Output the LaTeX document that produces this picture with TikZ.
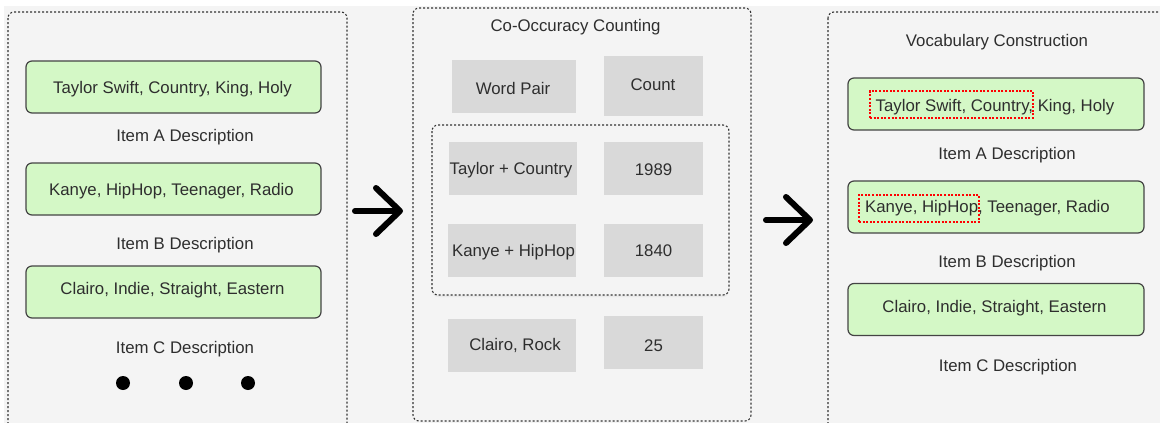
\documentclass[tikz,border=0pt]{standalone}
\usepackage{fontspec}
\setmainfont{Liberation Sans}
\usetikzlibrary{arrows.meta,shadows}
\definecolor{bg}{HTML}{F4F4F4}
\definecolor{greenfill}{HTML}{D4F8C6}
\definecolor{greenline}{HTML}{444444}
\definecolor{cellgray}{HTML}{D9D9D9}
\definecolor{txt}{HTML}{2E2E2E}
\definecolor{dotline}{HTML}{333333}
\begin{document}
\begin{tikzpicture}[x=1pt,y=-1pt,
  every node/.style={font=\fontsize{16.8}{18}\selectfont, text=txt, inner sep=0pt},
  panel/.style={draw=dotline, line width=1.1pt, dash pattern=on 2pt off 2pt, rounded corners=6pt},
  greenbox/.style={draw=greenline, line width=1.2pt, fill=greenfill, rounded corners=6pt, minimum width=295pt, minimum height=52pt},
  cell/.style={fill=cellgray, minimum width=#1, minimum height=53pt},
  cell/.default=128pt,
  numcell/.style={fill=cellgray, minimum width=99pt, minimum height=53pt},
  redbox/.style={draw=red, line width=1.2pt, dash pattern=on 2pt off 1.6pt, minimum height=27pt},
  lbl/.style={text height=12pt, text depth=3.5pt, yshift=-2.6pt},
  bigarrow/.style={line width=6pt, line cap=round, -{Straight Barb[length=24pt,width=46pt,line cap=round,line join=round]}},
  dotmark/.style={circle, fill=black, minimum size=14pt}
]
\useasboundingbox (0,0) rectangle (1160,423);
\clip (0,0) rectangle (1160,423);
\fill[bg] (4,6) rectangle (1160,423);

% panels
\draw[panel] (8,12) rectangle (347,440);
\draw[panel] (413,8) rectangle (751,421);
\draw[panel] (828,12) rectangle (1180,440);

% left panel
\node[greenbox] (la) at (173.5,87) {};
\node[lbl] (lat) at (172.5,87) {Taylor Swift, Country, King, Holy};
\node[lbl] (lad) at (185,135) {Item A Description};
\node[greenbox] (lb) at (173.5,189) {};
\node[lbl] (lbt) at (171.5,189) {Kanye, HipHop, Teenager, Radio};
\node[lbl] (lbd) at (185,243) {Item B Description};
\node[greenbox] (lc) at (173.5,292) {};
\node[lbl] (lct) at (172.5,288) {Clairo, Indie, Straight, Eastern};
\node[lbl] (lcd) at (185,347) {Item C Description};
\node[dotmark] (d1) at (123,383) {};
\node[dotmark] (d2) at (186,383) {};
\node[dotmark] (d3) at (248,383) {};

% middle panel
\node[lbl] (mt) at (575.5,25) {Co-Occuracy Counting};
\draw[panel, drop shadow={opacity=0.08, shadow xshift=0pt, shadow yshift=-2pt}, fill=bg] (432,125) rectangle (729,295);
\node[fill=cellgray, minimum width=124pt, minimum height=53pt] (wp) at (514,86.5) {};
\node[lbl] (wpt) at (513,88) {Word Pair};
\node[numcell, minimum height=60pt] (ct) at (653.5,86) {};
\node[lbl] (ctt) at (653,84) {Count};
\node[cell] (tc) at (513,168.5) {};
\node[lbl] (tct) at (511,168) {Taylor + Country};
\node[numcell] (n1) at (653.5,168.5) {};
\node[lbl] (n1t) at (653.5,169) {1989};
\node[cell] (kh) at (512,250.5) {};
\node[lbl] (kht) at (513.5,250) {Kanye + HipHop};
\node[numcell] (n2) at (653.5,250.5) {};
\node[lbl] (n2t) at (653.5,250) {1840};
\node[cell] (cr) at (512,345.5) {};
\node[lbl] (crt) at (515,344) {Clairo, Rock};
\node[numcell] (n3) at (653.5,342.5) {};
\node[lbl] (n3t) at (653.5,345) {25};

% right panel
\node[lbl] (rt) at (997,40) {Vocabulary Construction};
\node[greenbox, minimum width=296pt] (ra) at (996,104) {};
\node[lbl] (rat) at (995,105) {Taylor Swift, Country, King, Holy};
\node[redbox, minimum width=163pt] (rra) at (951.5,104.5) {};
\node[lbl] (rad) at (1007,153) {Item A Description};
\node[greenbox, minimum width=296pt] (rb) at (996,207) {};
\node[lbl] (rbt) at (987.5,206) {Kanye, HipHop, Teenager, Radio};
\node[redbox, minimum width=120pt] (rrb) at (919,208.5) {};
\node[lbl] (rbd) at (1007,261) {Item B Description};
\node[greenbox, minimum width=296pt] (rc) at (996,309.5) {};
\node[lbl] (rct) at (994.5,306) {Clairo, Indie, Straight, Eastern};
\node[lbl] (rcd) at (1008,365) {Item C Description};

% arrows
\coordinate (a1s) at (355,211);
\coordinate (a1e) at (403,211);
\coordinate (a2s) at (766,220);
\coordinate (a2e) at (813,220);
\draw[bigarrow] (a1s) -- (a1e);
\draw[bigarrow] (a2s) -- (a2e);
\end{tikzpicture}
\end{document}
